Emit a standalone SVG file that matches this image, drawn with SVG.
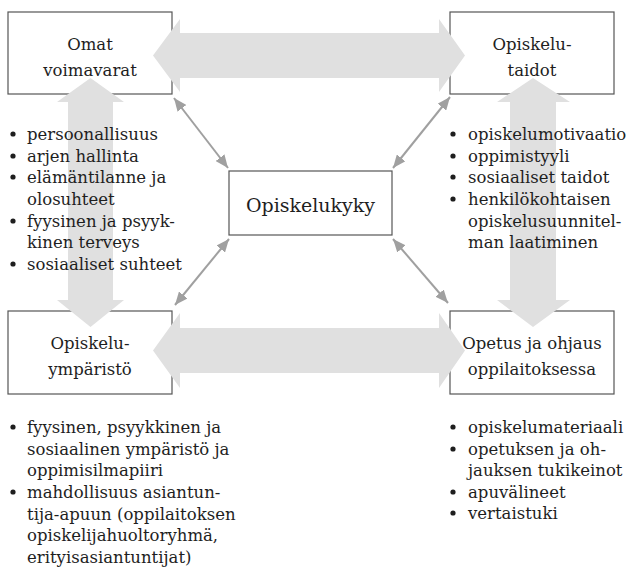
<svg xmlns="http://www.w3.org/2000/svg" width="633" height="567" viewBox="0 0 633 567">
<style>
.box{fill:#fff;stroke:#555;stroke-width:1.2}
.lbl{font-family:"DejaVu Serif","Liberation Serif",serif;font-size:16.5px;fill:#1e1e1e;text-anchor:middle}
.mid{font-size:19px}
.lst{font-family:"DejaVu Serif","Liberation Serif",serif;font-size:16.5px;fill:#1e1e1e}
.big{fill:#e0e0e0}
.thin{stroke:#a0a0a0;stroke-width:2;fill:none;marker-start:url(#ah);marker-end:url(#ah)}
.bul{fill:#1e1e1e}
</style>
<defs>
<marker id="ah" markerUnits="userSpaceOnUse" markerWidth="13" markerHeight="11" refX="13" refY="5.5" orient="auto-start-reverse">
<path d="M0,0 L13,5.5 L0,11 z" fill="#a0a0a0"/>
</marker>
</defs>
<rect width="633" height="567" fill="#fff"/>
<g id="node-omat">
<rect class="box" x="8" y="12" width="164" height="82"/>
<text class="lbl" x="90" y="50">Omat</text>
<text class="lbl" x="90" y="76">voimavarat</text>
</g>
<g id="node-taidot">
<rect class="box" x="450" y="12" width="164" height="82"/>
<text class="lbl" x="532" y="50">Opiskelu-</text>
<text class="lbl" x="532" y="76">taidot</text>
</g>
<g id="node-kyky">
<rect class="box" x="229" y="171" width="163" height="64"/>
<text class="lbl mid" x="310.5" y="212">Opiskelukyky</text>
</g>
<g id="node-ymparisto">
<rect class="box" x="8" y="311" width="164" height="83"/>
<text class="lbl" x="90" y="349">Opiskelu-</text>
<text class="lbl" x="90" y="375">ympäristö</text>
</g>
<g id="node-opetus">
<rect class="box" x="450" y="311" width="164" height="83"/>
<text class="lbl" x="532" y="349">Opetus ja ohjaus</text>
<text class="lbl" x="532" y="375">oppilaitoksessa</text>
</g>
<g id="connectors">
<path class="big" d="M153,55.5 L180,19 L180,33 L439,33 L439,19 L465,55.5 L439,92 L439,78 L180,78 L180,92 z"/>
<path class="big" d="M153,350.5 L180,313 L180,328 L439,328 L439,313 L465,350.5 L439,388 L439,373 L180,373 L180,388 z"/>
<path class="big" d="M90.5,78 L124,102 L113,102 L113,300 L124,300 L90.5,327 L57,300 L68,300 L68,102 L57,102 z"/>
<path class="big" d="M533,78 L570,102 L556,102 L556,300 L570,300 L533,327 L497,300 L510,300 L510,102 L497,102 z"/>
<line class="thin" x1="174" y1="98" x2="228" y2="168"/>
<line class="thin" x1="450" y1="97" x2="393" y2="168"/>
<line class="thin" x1="229" y1="239" x2="175" y2="305"/>
<line class="thin" x1="393" y1="239" x2="448" y2="303"/>
</g>
<g id="list-omat">
<circle class="bul" cx="13" cy="134" r="2.6"/>
<circle class="bul" cx="13" cy="156" r="2.6"/>
<circle class="bul" cx="13" cy="177" r="2.6"/>
<circle class="bul" cx="13" cy="221" r="2.6"/>
<circle class="bul" cx="13" cy="264" r="2.6"/>
<text class="lst" x="27" y="140">persoonallisuus</text>
<text class="lst" x="27" y="162">arjen hallinta</text>
<text class="lst" x="27" y="183">elämäntilanne ja</text>
<text class="lst" x="27" y="205">olosuhteet</text>
<text class="lst" x="27" y="227">fyysinen ja psyyk-</text>
<text class="lst" x="27" y="248">kinen terveys</text>
<text class="lst" x="27" y="270">sosiaaliset suhteet</text>
</g>
<g id="list-taidot">
<circle class="bul" cx="453" cy="134" r="2.6"/>
<circle class="bul" cx="453" cy="156" r="2.6"/>
<circle class="bul" cx="453" cy="177" r="2.6"/>
<circle class="bul" cx="453" cy="199" r="2.6"/>
<text class="lst" x="468" y="140">opiskelumotivaatio</text>
<text class="lst" x="468" y="162">oppimistyyli</text>
<text class="lst" x="468" y="183">sosiaaliset taidot</text>
<text class="lst" x="468" y="205">henkilökohtaisen</text>
<text class="lst" x="468" y="227">opiskelusuunnitel-</text>
<text class="lst" x="468" y="248">man laatiminen</text>
</g>
<g id="list-ymparisto">
<circle class="bul" cx="13" cy="427" r="2.6"/>
<circle class="bul" cx="13" cy="492" r="2.6"/>
<text class="lst" x="27" y="433">fyysinen, psyykkinen ja</text>
<text class="lst" x="27" y="455">sosiaalinen ympäristö ja</text>
<text class="lst" x="27" y="476">oppimisilmapiiri</text>
<text class="lst" x="27" y="498">mahdollisuus asiantun-</text>
<text class="lst" x="27" y="520">tija-apuun (oppilaitoksen</text>
<text class="lst" x="27" y="541">opiskelijahuoltoryhmä,</text>
<text class="lst" x="27" y="563">erityisasiantuntijat)</text>
</g>
<g id="list-opetus">
<circle class="bul" cx="453" cy="427" r="2.6"/>
<circle class="bul" cx="453" cy="449" r="2.6"/>
<circle class="bul" cx="453" cy="492" r="2.6"/>
<circle class="bul" cx="453" cy="513" r="2.6"/>
<text class="lst" x="468" y="433">opiskelumateriaali</text>
<text class="lst" x="468" y="455">opetuksen ja oh-</text>
<text class="lst" x="468" y="476">jauksen tukikeinot</text>
<text class="lst" x="468" y="498">apuvälineet</text>
<text class="lst" x="468" y="519">vertaistuki</text>
</g>
</svg>
